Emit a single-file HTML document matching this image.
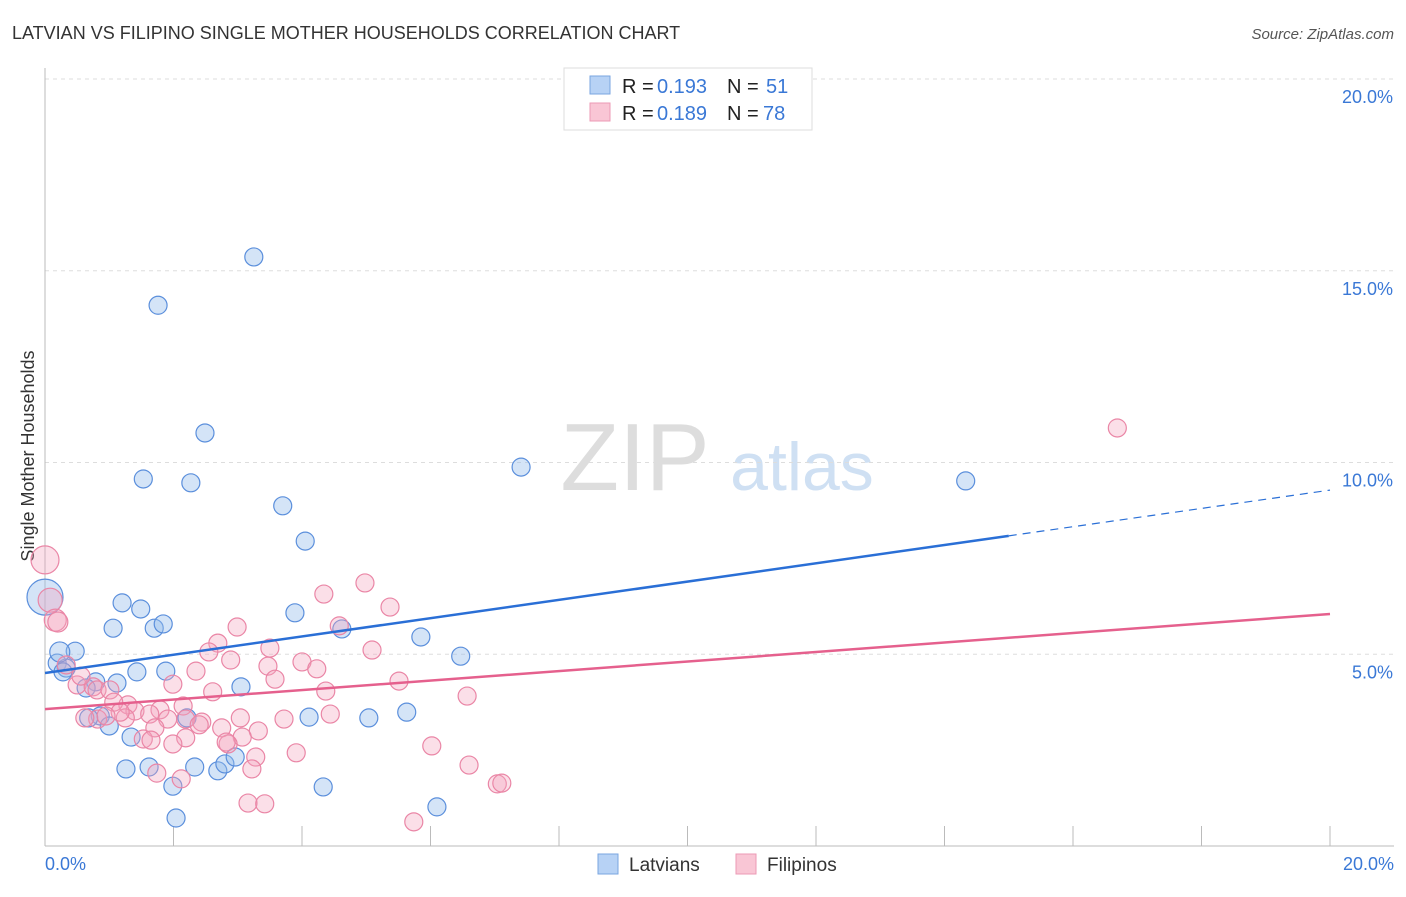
<!DOCTYPE html>
<html><head><meta charset="utf-8"><style>
body{margin:0;background:#fff;font-family:"Liberation Sans",sans-serif}
svg text{font-family:"Liberation Sans",sans-serif}
</style></head><body>
<svg id="c" width="1406" height="892" xmlns="http://www.w3.org/2000/svg">
<text x="12" y="39" font-size="18" fill="#333">LATVIAN VS FILIPINO SINGLE MOTHER HOUSEHOLDS CORRELATION CHART</text>
<text x="1394" y="39" font-size="15" fill="#555" font-style="italic" text-anchor="end">Source: ZipAtlas.com</text>
<text x="34" y="456" font-size="18" fill="#333" text-anchor="middle" transform="rotate(-90 34 456)">Single Mother Households</text>
<g><text x="635" y="490" font-size="96" font-family="Liberation Serif" fill="#ddd" text-anchor="middle">ZIP</text><text x="802" y="490" font-size="68" fill="#cfe0f3" text-anchor="middle">atlas</text></g>
<g id="grid"></g><g id="marks"></g>
<g>
<rect x="564" y="68" width="248" height="62" fill="#fff" stroke="#ddd"/>
<rect x="590" y="76" width="20" height="18" fill="#b7d2f5" stroke="#7aa6e0"/>
<rect x="590" y="103" width="20" height="18" fill="#f9c6d5" stroke="#ec9ab5"/>
<text y="93" font-size="20" fill="#222"><tspan x="622">R =</tspan><tspan x="657" fill="#3a78d6">0.193</tspan><tspan x="727">N =</tspan><tspan x="766" fill="#3a78d6">51</tspan></text>
<text y="120" font-size="20" fill="#222"><tspan x="622">R =</tspan><tspan x="657" fill="#3a78d6">0.189</tspan><tspan x="727">N =</tspan><tspan x="763" fill="#3a78d6">78</tspan></text>
</g>
<g>
<rect x="598" y="854" width="20" height="20" fill="#b7d2f5" stroke="#7aa6e0"/>
<text x="629" y="871" font-size="19" fill="#333">Latvians</text>
<rect x="736" y="854" width="20" height="20" fill="#f9c6d5" stroke="#ec9ab5"/>
<text x="767" y="871" font-size="19" fill="#333">Filipinos</text>
</g>
</svg>
<script>
const yTicks=[5,10,15,20];
const yTickLabels=["5.0%","10.0%","15.0%","20.0%"];
const xTickLabels=["0.0%","20.0%"];
const latX=[3.25,1.76,2.49,1.53,2.27,7.41,14.33,3.70,4.05,1.20,1.49,3.89,1.06,1.70,1.84,4.62,5.85,6.47,0.47,0.19,0.33,0.28,1.43,1.88,0.79,1.12,0.64,3.05,0.86,2.21,0.68,1.00,4.11,5.04,5.63,1.34,1.26,1.62,2.33,2.69,2.80,2.96,1.99,4.33,2.04,6.10,0,0.23];
const latY=[15.36,14.10,10.77,9.57,9.47,9.88,9.52,8.87,7.95,6.34,6.18,6.08,5.68,5.68,5.79,5.66,5.45,4.95,5.08,4.77,4.64,4.54,4.54,4.56,4.28,4.25,4.12,4.15,3.39,3.34,3.34,3.13,3.36,3.34,3.49,2.84,2.01,2.06,2.06,1.96,2.14,2.32,1.56,1.54,0.73,1.02,6.49,5.06];
const filX=[16.69,0,0.08,0.16,0.20,4.98,4.34,5.37,4.58,2.99,2.69,5.09,3.50,2.55,2.89,4.00,3.47,4.23,2.35,3.58,5.51,1.99,4.37,2.61,6.57,0.50,0.33,0.75,0.81,1.01,0.56,1.29,1.07,1.40,1.79,2.15,2.19,1.63,1.91,0.82,1.25,1.17,0.95,0.62,2.75,3.04,2.44,2.40,3.32,3.72,4.44,1.71,3.07,2.19,2.85,1.53,1.65,1.99,2.82,3.28,3.91,6.02,6.60,3.22,1.74,2.12,3.16,3.42,5.74,7.04,7.11];
const filY=[10.90,7.46,6.41,5.89,5.84,6.86,6.57,6.23,5.74,5.71,5.29,5.11,5.16,5.06,4.85,4.80,4.69,4.62,4.56,4.35,4.30,4.22,4.04,4.02,3.91,4.20,4.72,4.15,4.07,4.07,4.43,3.68,3.75,3.52,3.55,3.65,3.31,3.44,3.31,3.31,3.34,3.49,3.39,3.34,3.08,3.34,3.23,3.16,3.00,3.31,3.44,3.08,2.84,2.82,2.66,2.79,2.76,2.66,2.71,2.32,2.43,2.61,2.11,2.01,1.90,1.75,1.12,1.10,0.63,1.62,1.64];
const latSize={46:18,47:10};
const filSize={1:14,2:12,3:11,4:10};
const latTrend=[4.51,9.28];const filTrend=[3.57,6.05];
const X0=45,X1=1330,Y0=846,Y20=79;
const sx=v=>X0+(X1-X0)*v/20, sy=v=>Y0-(Y0-Y20)*v/20;
const NS='http://www.w3.org/2000/svg';
function mk(tag,attrs,parent){const e=document.createElementNS(NS,tag);for(const k in attrs)e.setAttribute(k,attrs[k]);parent.appendChild(e);return e;}
const g=document.getElementById('grid'),m=document.getElementById('marks');
yTicks.forEach((t,i)=>{
 const l=mk('line',{x1:X0,x2:1394,y1:sy(t),y2:sy(t),stroke:'#ddd','stroke-dasharray':'4,4'},g);
 
 
 const tx=mk('text',{x:1393,y:sy(t)+24,'font-size':18,fill:'#3a78d6','text-anchor':'end'},g);tx.textContent=yTickLabels[i];
 
 
});
const ax=mk('line',{x1:X0,x2:1394,y1:Y0,y2:Y0,stroke:'#bbb'},g);


const ay=mk('line',{x1:X0,x2:X0,y1:68,y2:Y0,stroke:'#bbb'},g);


for(let i=1;i<=10;i++){const t=mk('line',{x1:sx(i*2),x2:sx(i*2),y1:826,y2:Y0,stroke:'#bbb'},g);
 
 }
[[0,'start',45],[20,'end',1394]].forEach((a,i)=>{const t=mk('text',{x:a[2],y:870,'font-size':18,fill:'#3a78d6','text-anchor':a[1]},g);t.textContent=xTickLabels[i];
 
 });
latX.forEach((v,i)=>{const c=mk('circle',{cx:sx(v),cy:sy(latY[i]),r:latSize[i]||9,fill:'rgba(147,187,236,0.4)',stroke:'#5b8fdc','stroke-width':1.2},m);
 
 });
filX.forEach((v,i)=>{const c=mk('circle',{cx:sx(v),cy:sy(filY[i]),r:filSize[i]||9,fill:'rgba(244,164,190,0.35)',stroke:'#ea86a6','stroke-width':1.2},m);
 
 });
const xs=15;const ym=latTrend[0]+(latTrend[1]-latTrend[0])*xs/20;
const l1=mk('line',{x1:sx(0),y1:sy(latTrend[0]),x2:sx(xs),y2:sy(ym),stroke:'#2a6fd6','stroke-width':2.5},m);


const l2=mk('line',{x1:sx(xs),y1:sy(ym),x2:sx(20),y2:sy(latTrend[1]),stroke:'#2a6fd6','stroke-width':1.2,'stroke-dasharray':'8,6'},m);


const l3=mk('line',{x1:sx(0),y1:sy(filTrend[0]),x2:sx(20),y2:sy(filTrend[1]),stroke:'#e5608d','stroke-width':2.5},m);


</script>
</body></html>
